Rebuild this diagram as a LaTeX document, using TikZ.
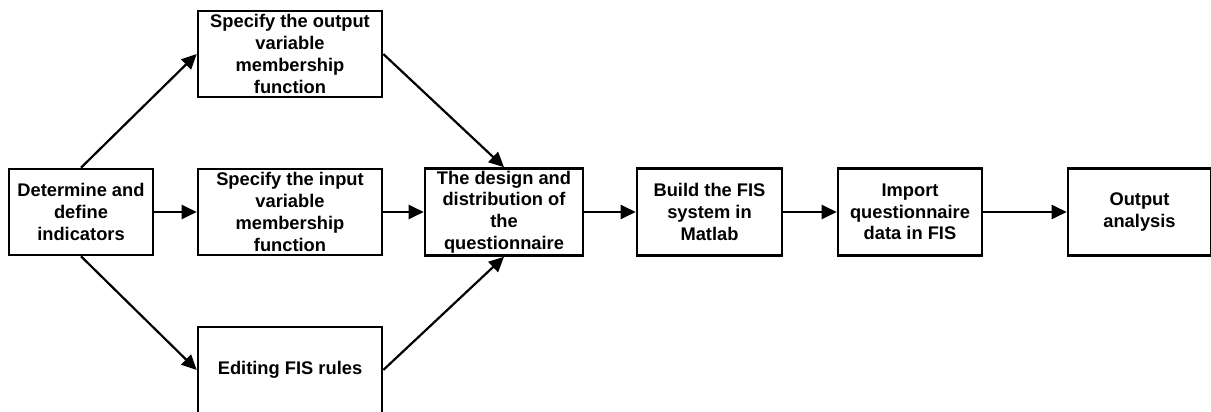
\documentclass[tikz,border=0pt]{standalone}
\usepackage{fontspec}
\setmainfont{Liberation Sans}
\usetikzlibrary{arrows.meta}
\begin{document}
\begin{tikzpicture}[x=1pt,y=-1pt,
  box/.style={draw=black, line width=2.6pt, fill=white, inner sep=0pt, align=center,
    font=\fontsize{18.3}{21.7}\selectfont\bfseries},
  arr/.style={line width=2.2pt, -{Triangle[length=15pt,width=14pt]}}]
\useasboundingbox[fill=white] (0,0) rectangle (1211,412);
\node[box, minimum width=144pt, minimum height=86pt] (A) at (81,212) {Determine and\\define\\indicators};
\node[box, minimum width=184pt, minimum height=86pt] (B) at (290,54) {Specify the output\\variable\\membership\\function};
\node[box, minimum width=184pt, minimum height=86pt] (C) at (290,212) {Specify the input\\variable\\membership\\function};
\node[box, minimum width=184pt, minimum height=86pt] (D) at (290,370) {Editing FIS rules};
\node[box, minimum width=158pt, minimum height=87pt] (E) at (504,212) {The design and\\distribution of\\the\\questionnaire};
\node[box, minimum width=145pt, minimum height=87pt] (F) at (709.5,212) {Build the FIS\\system in\\Matlab};
\node[box, minimum width=144pt, minimum height=87pt] (G) at (910,212) {Import\\questionnaire\\data in FIS};
\node[box, minimum width=143pt, minimum height=87pt] (H) at (1139.5,212) {Output\\analysis};
\draw[arr] (A.north) -- (B.west);
\draw[arr] (A.south) -- (D.west);
\draw[arr] (A.east) -- (C.west);
\draw[arr] (B.east) -- (E.north);
\draw[arr] (D.east) -- (E.south);
\draw[arr] (C.east) -- (E.west);
\draw[arr] (E.east) -- (F.west);
\draw[arr] (F.east) -- (G.west);
\draw[arr] (G.east) -- (H.west);
\end{tikzpicture}
\end{document}
